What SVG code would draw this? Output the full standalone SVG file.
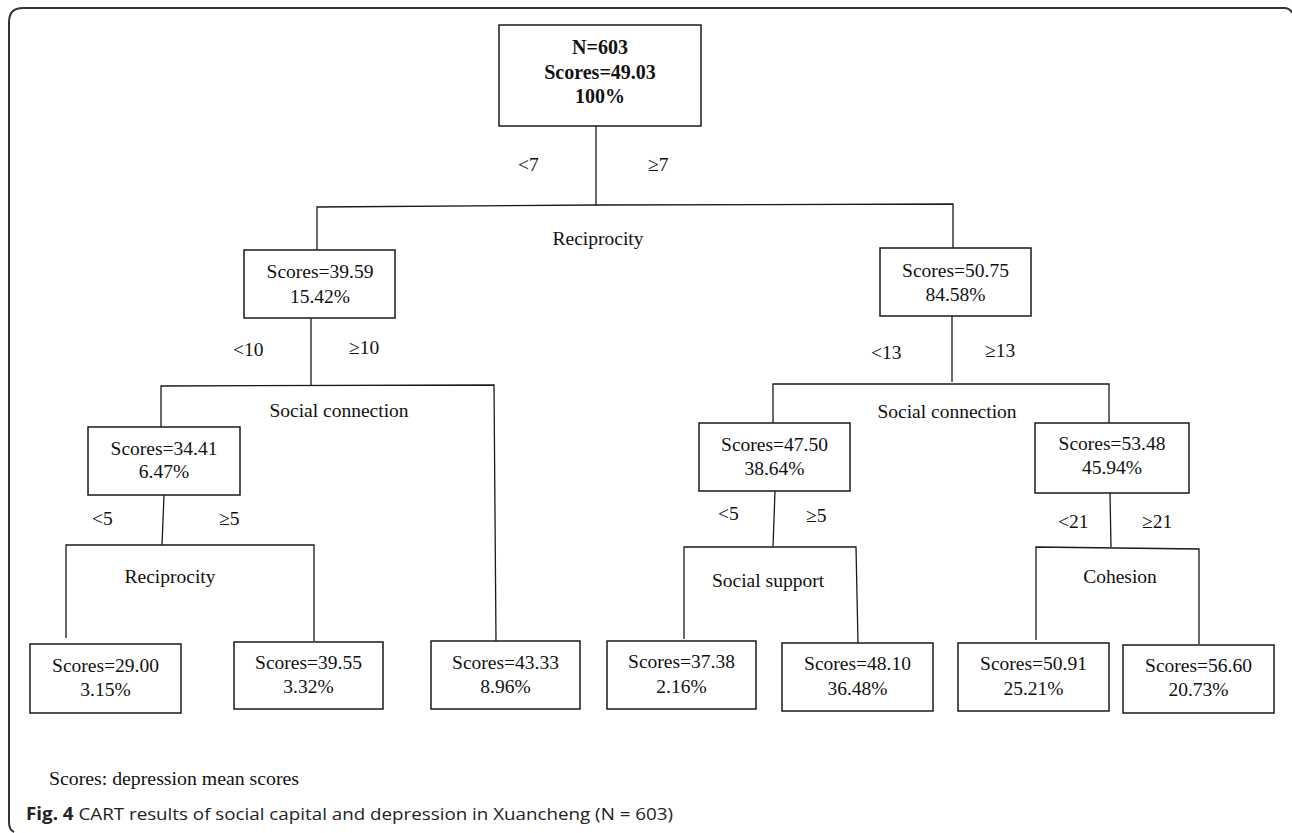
<svg xmlns="http://www.w3.org/2000/svg" width="1292" height="833" viewBox="0 0 1292 833">
<style>
.box{fill:#fff;stroke:#1a1a1a;stroke-width:1.5}
.ln{fill:none;stroke:#1a1a1a;stroke-width:1.3}
.t{font-family:"Liberation Serif","Times New Roman",serif;font-size:19.5px;fill:#111;text-anchor:middle}
.tb{font-family:"Liberation Serif","Times New Roman",serif;font-size:20px;font-weight:bold;fill:#111;text-anchor:middle}
.lab{font-family:"Liberation Serif","Times New Roman",serif;font-size:19.5px;fill:#111}
.cap{font-family:"Open Sans","Noto Sans","Liberation Sans",sans-serif;font-size:17px;fill:#222}
</style>
<rect width="1292" height="833" fill="#fff"/>
<path d="M14,832 Q9,830 9,822 L9,22 Q9,8 23,8 L1284,8 Q1290,8 1292,13" fill="none" stroke="#333" stroke-width="2"/>

<g id="connectors">
  <line class="ln" x1="596" y1="126" x2="596" y2="205"/>
  <polyline class="ln" points="317,250 317,207 596,205 953,204 953,248"/>
  <line class="ln" x1="311" y1="318" x2="311" y2="385"/>
  <polyline class="ln" points="161,427 161,386 494,385 496,641"/>
  <line class="ln" x1="164" y1="495" x2="162" y2="545"/>
  <polyline class="ln" points="66,638 66,545 314,545 314,641"/>
  <line class="ln" x1="952" y1="316" x2="952" y2="382"/>
  <polyline class="ln" points="773,423 773,384 1109,384 1109,423"/>
  <line class="ln" x1="775" y1="491" x2="773" y2="547"/>
  <polyline class="ln" points="684,639 684,547 856,547 858,643"/>
  <line class="ln" x1="1110" y1="493" x2="1111" y2="547"/>
  <polyline class="ln" points="1036,640 1036,547 1199,549 1199,644"/>
</g>

<g id="edge-labels">
  <text class="lab" x="518" y="171">&lt;7</text>
  <text class="lab" x="648" y="171">≥7</text>
  <text class="t" x="598" y="245">Reciprocity</text>
  <text class="lab" x="233" y="356">&lt;10</text>
  <text class="lab" x="349" y="354">≥10</text>
  <text class="t" x="339" y="417">Social connection</text>
  <text class="lab" x="92" y="525">&lt;5</text>
  <text class="lab" x="219" y="525">≥5</text>
  <text class="t" x="170" y="583">Reciprocity</text>
  <text class="lab" x="871" y="359">&lt;13</text>
  <text class="lab" x="985" y="357">≥13</text>
  <text class="t" x="947" y="418">Social connection</text>
  <text class="lab" x="718" y="520">&lt;5</text>
  <text class="lab" x="806" y="522">≥5</text>
  <text class="t" x="768" y="587">Social support</text>
  <text class="lab" x="1058" y="528">&lt;21</text>
  <text class="lab" x="1142" y="528">≥21</text>
  <text class="t" x="1120" y="583">Cohesion</text>
</g>

<g id="root">
  <rect class="box" x="499" y="25" width="202" height="101"/>
  <text class="tb" x="600" y="54">N=603</text>
  <text class="tb" x="600" y="79">Scores=49.03</text>
  <text class="tb" x="600" y="103">100%</text>
</g>
<g id="n-39-59">
  <rect class="box" x="244" y="250" width="151" height="68"/>
  <text class="t" x="320" y="278">Scores=39.59</text>
  <text class="t" x="320" y="303">15.42%</text>
</g>
<g id="n-50-75">
  <rect class="box" x="880" y="248" width="151" height="68"/>
  <text class="t" x="955.5" y="277">Scores=50.75</text>
  <text class="t" x="955.5" y="301">84.58%</text>
</g>
<g id="n-34-41">
  <rect class="box" x="88" y="427" width="152" height="68"/>
  <text class="t" x="164" y="455">Scores=34.41</text>
  <text class="t" x="164" y="478">6.47%</text>
</g>
<g id="n-47-50">
  <rect class="box" x="699" y="423" width="151" height="68"/>
  <text class="t" x="774.5" y="451">Scores=47.50</text>
  <text class="t" x="774.5" y="475">38.64%</text>
</g>
<g id="n-53-48">
  <rect class="box" x="1035" y="423" width="154" height="70"/>
  <text class="t" x="1112" y="450">Scores=53.48</text>
  <text class="t" x="1112" y="474">45.94%</text>
</g>
<g id="leaf-29-00">
  <rect class="box" x="30" y="644" width="151" height="69"/>
  <text class="t" x="105.5" y="672">Scores=29.00</text>
  <text class="t" x="105.5" y="696">3.15%</text>
</g>
<g id="leaf-39-55">
  <rect class="box" x="234" y="642" width="149" height="67"/>
  <text class="t" x="308.5" y="669">Scores=39.55</text>
  <text class="t" x="308.5" y="693">3.32%</text>
</g>
<g id="leaf-43-33">
  <rect class="box" x="431" y="641" width="149" height="68"/>
  <text class="t" x="505.5" y="669">Scores=43.33</text>
  <text class="t" x="505.5" y="693">8.96%</text>
</g>
<g id="leaf-37-38">
  <rect class="box" x="607" y="641" width="149" height="68"/>
  <text class="t" x="681.5" y="668">Scores=37.38</text>
  <text class="t" x="681.5" y="693">2.16%</text>
</g>
<g id="leaf-48-10">
  <rect class="box" x="782" y="643" width="151" height="68"/>
  <text class="t" x="857.5" y="670">Scores=48.10</text>
  <text class="t" x="857.5" y="695">36.48%</text>
</g>
<g id="leaf-50-91">
  <rect class="box" x="958" y="643" width="151" height="68"/>
  <text class="t" x="1033.5" y="670">Scores=50.91</text>
  <text class="t" x="1033.5" y="695">25.21%</text>
</g>
<g id="leaf-56-60">
  <rect class="box" x="1123" y="645" width="151" height="68"/>
  <text class="t" x="1198.5" y="672">Scores=56.60</text>
  <text class="t" x="1198.5" y="696">20.73%</text>
</g>

<g id="notes">
  <text class="lab" x="49" y="785" textLength="250" lengthAdjust="spacingAndGlyphs">Scores: depression mean scores</text>
  <text class="cap" x="26" y="820" textLength="647" lengthAdjust="spacingAndGlyphs"><tspan font-weight="bold">Fig. 4</tspan> CART results of social capital and depression in Xuancheng (N = 603)</text>
</g>
</svg>
